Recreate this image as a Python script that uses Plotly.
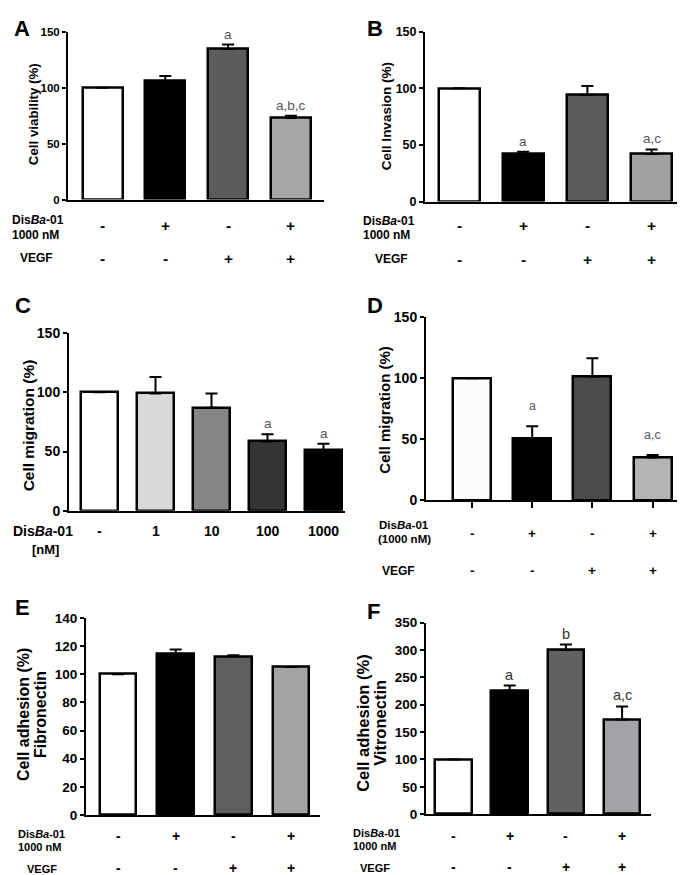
import plotly.graph_objects as go

# ---------------- data ----------------
a_values = [100, 106, 134.5, 73]
a_errors = [0, 4.5, 4, 2]
a_letters = ["", "", "a", "a,b,c"]

b_values = [100, 42, 94, 42]
b_errors = [0, 2, 8, 4]
b_letters = ["", "a", "", "a,c"]

c_values = [100, 99, 87, 58.5, 51]
c_errors = [0, 14, 12, 6, 5.5]
c_letters = ["", "", "", "a", "a"]
c_doses = ["-", "1", "10", "100", "1000"]

d_values = [100, 50.5, 101.5, 35]
d_errors = [0, 10, 15, 2]
d_letters = ["", "a", "", "a,c"]

e_values = [100, 114.5, 112.5, 105]
e_errors = [0, 3, 1, 0]
e_letters = ["", "", "", ""]

f_values = [100, 226, 300, 173]
f_errors = [0, 9, 10, 24]
f_letters = ["", "a", "b", "a,c"]

disba_row = ["-", "+", "-", "+"]
vegf_row = ["-", "-", "+", "+"]

# ---------------- styles / layout ----------------
W, H = 685, 875
FONT = "Liberation Sans, Arial, sans-serif"
LW = 2.5

a_colors = ["#ffffff", "#000000", "#5b5b5b", "#a6a6a8"]
b_colors = ["#ffffff", "#000000", "#5a5a5a", "#a1a1a3"]
c_colors = ["#ffffff", "#d9d9d9", "#848484", "#333333", "#000000"]
d_colors = ["#fcfcfc", "#000000", "#4b4b4b", "#b4b4b4"]
e_colors = ["#ffffff", "#000000", "#5f5f5f", "#a4a4a6"]
f_colors = ["#ffffff", "#000000", "#616161", "#a3a3a7"]


def px(x):
    return x / W


def py(y):
    return 1 - y / H


panels = [
    dict(name="A", values=a_values, errors=a_errors, letters=a_letters, colors=a_colors,
         left=60, right=316, c0=94.5, sp=62.8, bw=42.5, y0=187, ytop=16, ymax=150, dtick=50,
         tick=11.5, title=["Cell viability (%)"], tx=[25], ty=100, tsize=13.3,
         lx=14, ly=13, lettercol="#555555", lsize=13.5, lshift=1),
    dict(name="B", values=b_values, errors=b_errors, letters=b_letters, colors=b_colors,
         left=417, right=673, c0=451, sp=64.2, bw=43.5, y0=189, ytop=16, ymax=150, dtick=50,
         tick=12.5, title=["Cell Invasion (%)"], tx=[378], ty=102, tsize=13.5,
         lx=367, ly=13, lettercol="#555555", lsize=13.5, lshift=1),
    dict(name="C", values=c_values, errors=c_errors, letters=c_letters, colors=c_colors,
         left=61, right=337, c0=91.5, sp=56, bw=39, y0=504, ytop=323, ymax=150, dtick=50,
         tick=14, title=["Cell migration (%)"], tx=[20], ty=417, tsize=15.5,
         lx=15, ly=295, lettercol="#555555", lsize=13.5, lshift=1),
    dict(name="D", values=d_values, errors=d_errors, letters=d_letters, colors=d_colors,
         left=418, right=685, c0=464, sp=60.2, bw=40.5, y0=493, ytop=307, ymax=150, dtick=50,
         tick=14, title=["Cell migration (%)"], tx=[377], ty=401, tsize=15,
         lx=367, ly=295, lettercol="#555555", lsize=12.5, lshift=11),
    dict(name="E", values=e_values, errors=e_errors, letters=e_letters, colors=e_colors,
         left=78, right=312, c0=110, sp=57.7, bw=39, y0=814, ytop=613, ymax=140, dtick=20,
         tick=13.5, title=["Cell adhesion (%)", "Fibronectin"], tx=[16, 33], ty=712, tsize=16,
         lx=14, ly=603, lettercol="#333333", lsize=14, lshift=1),
    dict(name="F", values=f_values, errors=f_errors, letters=f_letters, colors=f_colors,
         left=418, right=643, c0=445.5, sp=56.2, bw=39, y0=813, ytop=618, ymax=350, dtick=50,
         tick=13.5, title=["Cell adhesion (%)", "Vitronectin"], tx=[355, 372], ty=720, tsize=16.5,
         lx=366, ly=607, lettercol="#333333", lsize=14.5, lshift=1),
]

fig = go.Figure()
annotations = []
layout_axes = {}

for i, p in enumerate(panels):
    n = i + 1
    xa = "x" if n == 1 else f"x{n}"
    ya = "y" if n == 1 else f"y{n}"
    xkey = "xaxis" if n == 1 else f"xaxis{n}"
    ykey = "yaxis" if n == 1 else f"yaxis{n}"
    k = len(p["values"])
    xs = list(range(k))
    r0 = -(p["c0"] - p["left"]) / p["sp"]
    r1 = (p["right"] - p["c0"]) / p["sp"]
    width = (p["bw"] - LW) / p["sp"]

    fig.add_trace(go.Bar(
        x=xs, y=p["values"], xaxis=xa, yaxis=ya, width=width,
        marker=dict(color=p["colors"], line=dict(color="black", width=LW)),
        error_y=dict(type="data", symmetric=False, array=p["errors"],
                     arrayminus=[0] * k, color="black", thickness=2, width=6),
        showlegend=False, hoverinfo="skip",
    ))

    layout_axes[xkey] = dict(
        domain=[px(p["left"]), px(p["right"])], range=[r0, r1], anchor=ya,
        showline=True, linecolor="black", linewidth=2, showgrid=False, zeroline=False,
        showticklabels=False,
        ticks="outside" if p["name"] == "D" else "", tickvals=xs, ticklen=6, tickwidth=2,
        tickcolor="black", fixedrange=True,
    )
    layout_axes[ykey] = dict(
        domain=[py(p["y0"]), py(p["ytop"])], range=[0, p["ymax"]], anchor=xa,
        showline=True, linecolor="black", linewidth=2, showgrid=False, zeroline=False,
        tickmode="linear", tick0=0, dtick=p["dtick"], ticks="outside", ticklen=4,
        tickwidth=2, tickcolor="black",
        tickfont=dict(family=FONT, size=p["tick"], color="black", weight="bold"),
        fixedrange=True,
    )

    # panel letter
    annotations.append(dict(text=f"<b>{p['name']}</b>", x=px(p["lx"]), y=py(p["ly"]),
                            xref="paper", yref="paper", xanchor="center", yanchor="middle",
                            showarrow=False, font=dict(family=FONT, size=22, color="black")))
    # y titles
    for t, tx in zip(p["title"], p["tx"]):
        annotations.append(dict(text=f"<b>{t}</b>", x=px(tx), y=py(p["ty"]),
                                xref="paper", yref="paper", xanchor="center", yanchor="middle",
                                textangle=-90, showarrow=False,
                                font=dict(family=FONT, size=p["tsize"], color="black")))
    # significance letters
    for j, lab in enumerate(p["letters"]):
        if lab:
            annotations.append(dict(text=lab, x=j, y=p["values"][j] + p["errors"][j],
                                    xref=xa, yref=ya, xanchor="center", yanchor="bottom",
                                    yshift=p["lshift"], showarrow=False,
                                    font=dict(family=FONT, size=p["lsize"], color=p["lettercol"])))


def label(text, x, y, xref="paper", size=12, anchor="left"):
    annotations.append(dict(text=text, x=x, y=py(y), xref=xref, yref="paper",
                            xanchor=anchor, yanchor="middle", showarrow=False,
                            font=dict(family=FONT, size=size, color="black")))


def sym_row(row, xa, y, size):
    for j, s in enumerate(row):
        label(f"<b>{s}</b>", j, y, xref=xa, size=size, anchor="center")


DIS = "<b>Dis<i>Ba</i>-01</b>"

# Panel A rows
label(DIS, px(2), 208, size=12)
label("<b>1000 nM</b>", px(2), 223, size=12)
label("<b>VEGF</b>", px(10), 247, size=12)
sym_row(disba_row, "x", 213, 15.5)
sym_row(vegf_row, "x", 247, 15.5)

# Panel B rows
label(DIS, px(353), 209, size=12)
label("<b>1000 nM</b>", px(353), 223, size=12)
label("<b>VEGF</b>", px(365), 248, size=12)
sym_row(disba_row, "x2", 213, 15.5)
sym_row(vegf_row, "x2", 248, 15.5)

# Panel C rows
label(DIS, px(3), 525, size=14)
label("<b>[nM]</b>", px(37), 543, size=13, anchor="center")
sym_row(c_doses, "x3", 525, 14)

# Panel D rows
label(DIS, px(396), 518, size=11.5, anchor="center")
label("<b>(1000 nM)</b>", px(396), 533, size=11.5, anchor="center")
label("<b>VEGF</b>", px(372), 565, size=12)
sym_row(disba_row, "x4", 527, 13.5)
sym_row(vegf_row, "x4", 565, 13.5)

# Panel E rows
label(DIS, px(8), 833, size=11)
label("<b>1000 nM</b>", px(8), 846, size=11)
label("<b>VEGF</b>", px(17), 869, size=11)
sym_row(disba_row, "x5", 835, 14)
sym_row(vegf_row, "x5", 868, 14)

# Panel F rows
label(DIS, px(343), 832, size=11)
label("<b>1000 nM</b>", px(343), 845, size=11)
label("<b>VEGF</b>", px(350), 868, size=11)
sym_row(disba_row, "x6", 835, 14)
sym_row(vegf_row, "x6", 867, 14)

fig.update_layout(
    width=W, height=H, margin=dict(l=0, r=0, t=0, b=0),
    paper_bgcolor="white", plot_bgcolor="rgba(0,0,0,0)",
    font=dict(family=FONT, color="black"),
    annotations=annotations, bargap=0,
    **layout_axes,
)

fig.write_html("out.html", config={"displayModeBar": False})
